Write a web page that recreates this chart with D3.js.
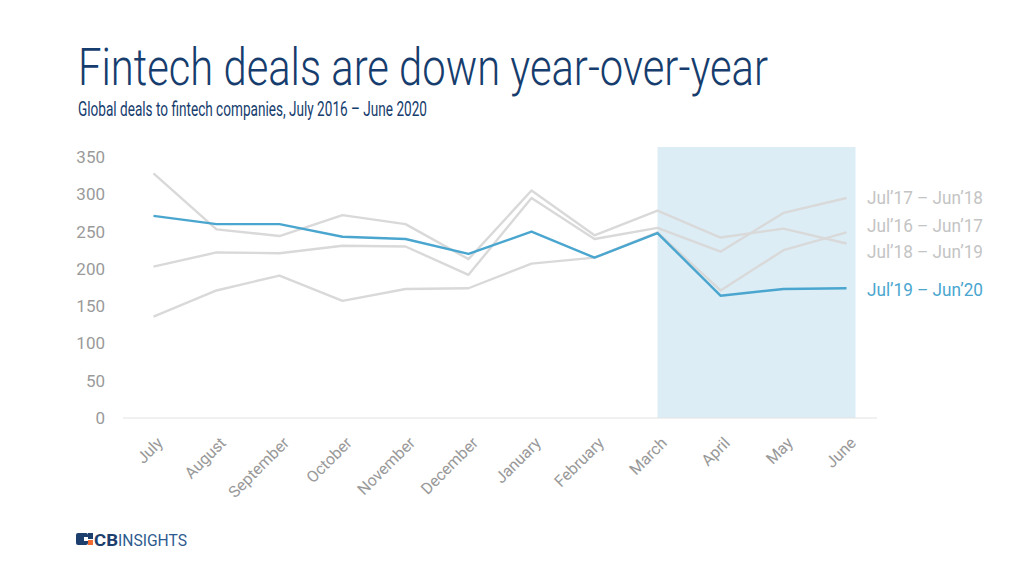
<!DOCTYPE html>
<html><head><meta charset="utf-8">
<script src="https://cdn.jsdelivr.net/npm/d3@7"></script>
<style>
html,body{margin:0;padding:0;background:#fff;}
svg{display:block;font-family:Roboto,"Noto Sans",sans-serif;}
</style></head>
<body><svg id="c" width="1024" height="576"></svg>
<script>
const months = ["July","August","September","October","November","December","January","February","March","April","May","June"];
const seriesNames = ["Jul\u201916 \u2013 Jun\u201917","Jul\u201917 \u2013 Jun\u201918","Jul\u201918 \u2013 Jun\u201919","Jul\u201919 \u2013 Jun\u201920"];
const s1617 = [136,171,191,157,173,174,207,215,249,171,225,249];
const s1718 = [203,222,221,231,230,192,295,240,255,223,275,295];
const s1819 = [328,253,244,272,260,213,305,245,278,242,254,234];
const s1920 = [271,260,260,243,240,220,250,215,248,164,173,174];
const yTicks = [0,50,100,150,200,250,300,350];
const highlightMonths = ["March","June"];
const labelNudge = [-6,0,8,2];

(function(){
const series = [s1617,s1718,s1819,s1920];
const colors = ["#d9d9d9","#d9d9d9","#d9d9d9","#4aa6cf"];
const labelColors = ["#c4c4c4","#c4c4c4","#c4c4c4","#4aa6cf"];

const svg = d3.select("#c");
const pl = 123, pr = 877, pt = 157, pb = 418;
const x = d3.scalePoint().domain(months).range([pl,pr]).padding(0.484);
const y = d3.scaleLinear().domain([0,350]).range([pb,pt]);

svg.append("text").attr("x",78).attr("y",85).attr("fill","#163d6d")
  .attr("font-size",52).attr("font-weight",300)
  .attr("textLength",690).attr("lengthAdjust","spacingAndGlyphs")
  .text("Fintech deals are down year-over-year");
svg.append("text").attr("x",78).attr("y",116).attr("fill","#163d6d")
  .attr("font-size",20).attr("font-weight",400)
  .attr("textLength",349).attr("lengthAdjust","spacingAndGlyphs")
  .text("Global deals to fintech companies, July 2016 \u2013 June 2020");

svg.append("rect")
  .attr("x",x(highlightMonths[0]))
  .attr("y",147)
  .attr("width",x(highlightMonths[1]) + 9 - x(highlightMonths[0]))
  .attr("height",pb-147)
  .attr("fill","#dcedf5");

svg.append("line").attr("x1",pl).attr("x2",pr).attr("y1",y(0)).attr("y2",y(0))
  .attr("stroke","#e2e2e2").attr("stroke-width",1);

const ya = svg.append("g").attr("transform",`translate(108,0)`)
  .call(d3.axisLeft(y).tickValues(yTicks).tickSize(0).tickPadding(3));
ya.select(".domain").remove();
ya.selectAll("text").attr("font-size",17).attr("fill","#9a9a9a").attr("font-family","Roboto");

const xa = svg.append("g").attr("transform",`translate(0,${pb})`)
  .call(d3.axisBottom(x).tickSize(0));
xa.select(".domain").remove();
xa.selectAll("text").attr("font-size",16).attr("fill","#999999").attr("font-family","Roboto")
  .attr("text-anchor","end")
  .attr("transform","translate(6,22) rotate(-45)")
  .attr("dy","0.35em").attr("y",0);

const line = d3.line().x((d,i)=>x(months[i])).y(d=>y(d));
series.forEach((s,i)=>{
  svg.append("path").datum(s).attr("d",line).attr("fill","none")
    .attr("stroke",colors[i]).attr("stroke-width",2.4).attr("stroke-linejoin","round");
});

series.forEach((s,i)=>{
  svg.append("text").attr("x",867).attr("y",y(s[s.length-1])+labelNudge[i])
    .attr("dy","0.35em").attr("font-size",17.5).attr("fill",labelColors[i])
    .attr("font-family","Roboto")
    .attr("textLength",116).attr("lengthAdjust","spacingAndGlyphs")
    .text(seriesNames[i]);
});

const lg = svg.append("g").attr("transform","translate(76,533)");
lg.append("rect").attr("x",0).attr("y",0).attr("width",12).attr("height",12).attr("rx",2).attr("fill","#1d3f6e");
lg.append("rect").attr("x",8).attr("y",4).attr("width",4).attr("height",4).attr("fill","#fff");
lg.append("rect").attr("x",12).attr("y",0).attr("width",5).attr("height",6).attr("fill","#1d3f6e");
lg.append("rect").attr("x",12).attr("y",7).attr("width",5).attr("height",5).attr("fill","#f26a2e");
lg.append("text").attr("x",18).attr("y",12.5).attr("font-size",16).attr("font-weight",700)
  .attr("fill","#1d3f6e").attr("textLength",24).attr("lengthAdjust","spacingAndGlyphs").text("CB");
lg.append("text").attr("x",42).attr("y",12.5).attr("font-size",16).attr("font-weight",400)
  .attr("fill","#2d5a8e").attr("textLength",69).attr("lengthAdjust","spacingAndGlyphs").text("INSIGHTS");
})();
</script></body></html>
